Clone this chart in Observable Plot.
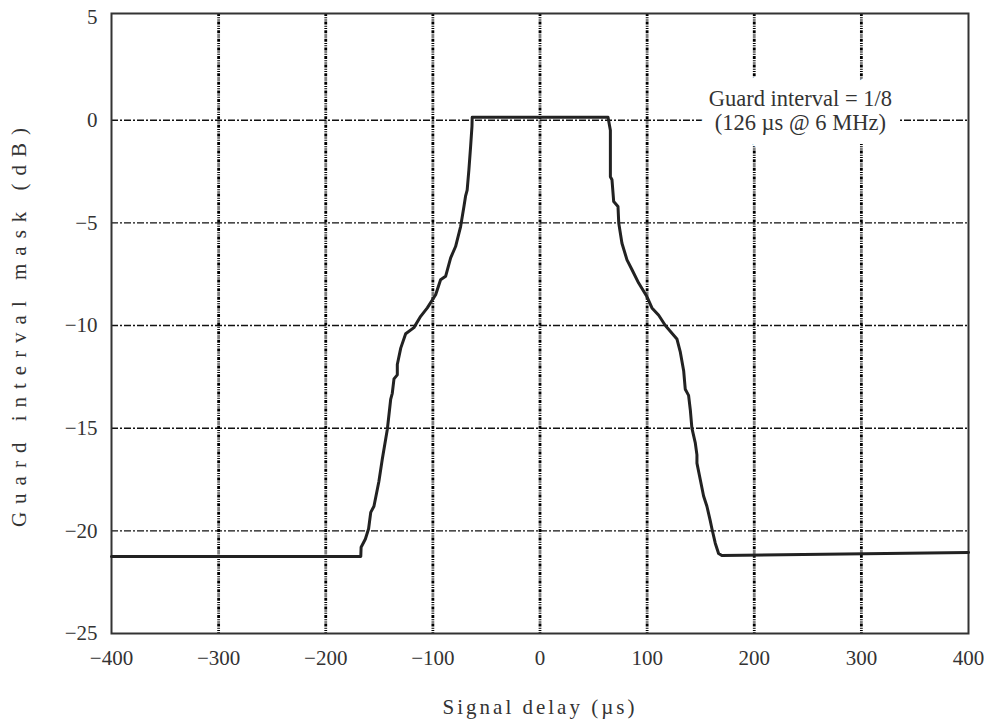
<!DOCTYPE html>
<html>
<head>
<meta charset="utf-8">
<script src="https://cdn.jsdelivr.net/npm/d3@7"></script>
<script src="https://cdn.jsdelivr.net/npm/@observablehq/plot@0.6"></script>
<style>
  html, body { margin: 0; padding: 0; background: #fff; }
  #chart svg { display: block; }
  #chart [aria-label="y-axis label"] text { letter-spacing: 8px; }
  #chart [aria-label="x-axis label"] text { letter-spacing: 3px; }
</style>
</head>
<body>
<div id="chart"></div>
<script>
// Signal delay (µs)
const delays = [
  -400, -167.3, -167, -163, -160, -158, -155, -150.4, -147.2, -142.5,
  -139.4, -137.9, -136.3, -133.2, -133.2, -130, -125.4, -117.7, -111.4, -105.2,
  -97.4, -92.8, -88.1, -83.4, -78.8, -74.1, -71, -69.5, -68, -66.4,
  -64.8, -63.5, -63.3, 63.5, 65.7, 65.7, 67.2, 68.8, 72.8, 73.5,
  76.5, 81.2, 85.9, 92.1, 99.9, 104.5, 110.8, 117, 127.8, 131,
  134.1, 135.6, 138.7, 140.3, 141.8, 144.9, 146.5, 146.5, 149.6, 152.7,
  155.8, 158.9, 160.5, 163.6, 166.7, 169.8, 400
];
// Guard interval mask (dB)
const maskDb = [
  -21.25, -21.25, -20.8, -20.4, -19.9, -19.1, -18.8, -17.6, -16.5, -15.05,
  -13.6, -13.3, -12.6, -12.4, -11.9, -11.1, -10.4, -10.1, -9.55, -9.14,
  -8.5, -7.77, -7.6, -6.7, -6.15, -5.18, -4.2, -3.7, -3.4, -2.43,
  -1.3, -0.3, 0.15, 0.15, -0.49, -2.75, -2.9, -3.96, -4.2, -5.0,
  -5.99, -6.8, -7.28, -7.93, -8.6, -9.14, -9.5, -10.0, -10.65, -11.3,
  -12.2, -13.1, -13.4, -14.1, -15.0, -15.7, -16.3, -16.7, -17.5, -18.3,
  -18.8, -19.5, -19.9, -20.6, -21.1, -21.2, -21.05
];
const xTicks = [-400, -300, -200, -100, 0, 100, 200, 300, 400];
const yTicks = [-25, -20, -15, -10, -5, 0, 5];
const xGrid = [-300, -200, -100, 0, 100, 200, 300];
const yGrid = [-20, -15, -10, -5, 0];
const annotationX = [243];
const annotationY = [0.5];
const annotationText = ["Guard interval = 1/8\n(126 µs @ 6 MHz)"];

const data = delays.map((d, i) => ({delay: d, mask: maskDb[i]}));
const note = annotationText.map((t, i) => ({x: annotationX[i], y: annotationY[i], text: t}));

const fontFamily = "'Liberation Serif', 'DejaVu Serif', serif";
const textColor = "#333";
const noteStyle = {
  x: "x", y: "y", text: "text", fontSize: 22.5, fontFamily,
  lineHeight: 1.1, lineAnchor: "middle", textAnchor: "middle"
};

const chart = Plot.plot({
  width: 984,
  height: 724,
  marginLeft: 111,
  marginRight: 16,
  marginTop: 13,
  marginBottom: 91,
  style: {fontFamily, fontSize: "21px", color: textColor, background: "#fff"},
  x: {domain: [-400, 400], ticks: xTicks},
  y: {domain: [-25, 5.2], ticks: yTicks},
  marks: [
    Plot.ruleY(yGrid, {stroke: "#111", strokeWidth: 1.4, strokeDasharray: "7,2,2,2"}),
    Plot.ruleX(xGrid, {stroke: "#000", strokeWidth: 2.8, strokeDasharray: "3,1.2,1,1.2,1,1.2"}),
    Plot.text(note, {...noteStyle, fill: "white", stroke: "white", strokeWidth: 28, strokeLinejoin: "round"}),
    Plot.text(note, {...noteStyle, fill: textColor}),
    Plot.frame({stroke: "#333", strokeWidth: 2}),
    Plot.line(data, {x: "delay", y: "mask", stroke: "#222", strokeWidth: 3, strokeLinejoin: "round"}),
    Plot.axisX({
      ticks: xTicks, tickSize: 0, tickPadding: 17, fontSize: 21,
      label: "Signal delay (µs)", labelAnchor: "center", labelOffset: 80, labelArrow: "none"
    }),
    Plot.axisY({
      ticks: yTicks, tickSize: 0, tickPadding: 14, fontSize: 21,
      label: "Guard interval mask (dB)", labelAnchor: "center", labelOffset: 100, labelArrow: "none"
    })
  ]
});
document.getElementById("chart").appendChild(chart);
</script>
</body>
</html>
